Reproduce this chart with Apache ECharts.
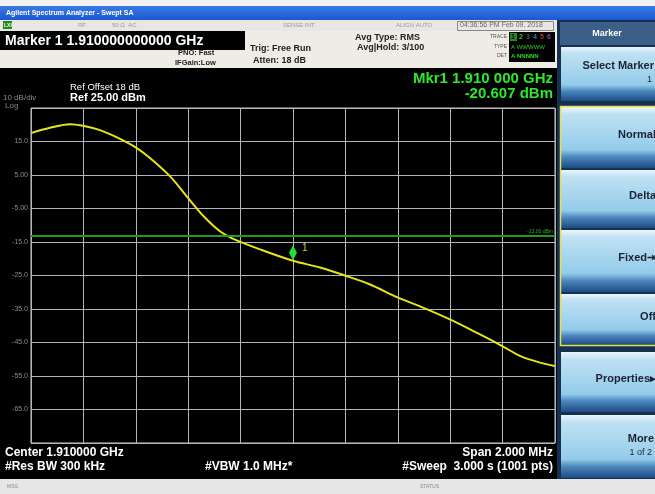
<!DOCTYPE html>
<html>
<head>
<meta charset="utf-8">
<script src="https://cdn.jsdelivr.net/npm/echarts@6/dist/echarts.min.js"></script>
<style>
	html, body { margin: 0; padding: 0; background: #000; }
	#main { width: 655px; height: 494px; }
</style>
</head>
<body>
<div id="main"></div>
<script>
	// trace: offset from center (kHz) and level (dBm)
	const freqOffsetKHz = [-1000, -927, -851, -802, -737, -668, -599, -546, -469, -401, -340, -279, -230, -126, 0, 103, 198, 294, 401, 485, 599, 714, 802, 866, 943, 1000];
	const traceDbm = [17.5, 19.1, 20.15, 19.7, 18.4, 16.1, 13.2, 10.1, 4.6, -1.8, -7.4, -11.8, -14.0, -17.2, -20.6, -22.6, -25.0, -27.7, -31.6, -34.2, -38.1, -42.6, -46.2, -49.0, -51.0, -52.0];

	const refLevel = 25;       // Ref 25.00 dBm
	const displayLine = -13;   // -13.00 dBm
	const markerOffset = 0;    // Mkr1 at center
	const markerLevel = -20.607;

	const FONT = 'Liberation Sans, Arial, sans-serif';

	// y axis is drawn relative to the ref level so the ticks land on -100..0
	const traceData = freqOffsetKHz.map((f, i) => [f, traceDbm[i] - refLevel]);

	function levelLabel(v) {
		let d = v + refLevel;
		return Math.abs(d) >= 10 ? d.toFixed(1) : d.toFixed(2);
	}

	function txt(x, y, s, o) {
		return {
			type: 'text', x: x, y: y, z: 10,
			style: Object.assign({
				text: s, fill: '#fff', font: '11px ' + FONT,
				textAlign: 'left', textVerticalAlign: 'middle'
			}, o || {})
		};
	}

	function rect(x, y, w, h, fill, o) {
		return Object.assign({ type: 'rect', z: 5, shape: { x: x, y: y, width: w, height: h }, style: { fill: fill } }, o || {});
	}

	const btnFill = new echarts.graphic.LinearGradient(0, 0, 0, 1, [
		{ offset: 0, color: '#eaf6fc' },
		{ offset: 0.12, color: '#bfe1f3' },
		{ offset: 0.7, color: '#93cbea' },
		{ offset: 0.82, color: '#4b86bd' },
		{ offset: 1, color: '#1d4c84' }
	]);

	function button(y, h, label, sub) {
		let list = [rect(561, y, 94, h, btnFill)];
		if (sub) {
			list.push(txt(654, y + h / 2 - 8, label, { font: 'bold 11px ' + FONT, fill: '#1a2233', textAlign: 'right' }));
			list.push(txt(652, y + h / 2 + 6, sub, { font: '9px ' + FONT, fill: '#1a2233', textAlign: 'right' }));
		} else {
			list.push(txt(656, y + h / 2 - 3, label, { font: 'bold 11px ' + FONT, fill: '#1a2233', textAlign: 'right' }));
		}
		return list;
	}

	let graphics = [
		// window title
		rect(0, 0, 655, 6, '#f2f2f2'),
		rect(0, 6, 655, 14, new echarts.graphic.LinearGradient(0, 0, 0, 1, [
			{ offset: 0, color: '#3a7be6' }, { offset: 1, color: '#1b58d0' }
		])),
		txt(6, 13, 'Agilent Spectrum Analyzer - Swept SA', { font: 'bold 7px ' + FONT }),
		// status row
		rect(0, 20, 557, 11, '#e9e7e1'),
		rect(3, 21, 9, 8, '#1c8c1c'),
		txt(4, 25.5, 'LXI', { font: 'bold 5px ' + FONT }),
		txt(78, 25.5, 'RF', { font: '6px ' + FONT, fill: '#999' }),
		txt(112, 25.5, '50 Ω  AC', { font: '6px ' + FONT, fill: '#999' }),
		txt(283, 25.5, 'SENSE:INT', { font: '6px ' + FONT, fill: '#999' }),
		txt(396, 25.5, 'ALIGN AUTO', { font: '6px ' + FONT, fill: '#999' }),
		rect(457.5, 21.5, 96, 9, 'none', { style: { fill: 'none', stroke: '#888', lineWidth: 1 } }),
		txt(460, 25.5, '04:36:56 PM Feb 09, 2018', { font: '7px ' + FONT, fill: '#666' }),
		// settings panel
		rect(0, 31, 557, 37, '#efece5'),
		rect(0, 31, 245, 19, '#000'),
		txt(5, 41, 'Marker 1 1.910000000000 GHz', { font: 'bold 14px ' + FONT }),
		txt(178, 53, 'PNO: Fast', { font: 'bold 7.5px ' + FONT, fill: '#222' }),
		txt(175, 63, 'IFGain:Low', { font: 'bold 7.5px ' + FONT, fill: '#222' }),
		txt(250, 49, 'Trig: Free Run', { font: 'bold 9px ' + FONT, fill: '#222' }),
		txt(253, 61, 'Atten: 18 dB', { font: 'bold 9px ' + FONT, fill: '#222' }),
		txt(355, 38, 'Avg Type: RMS', { font: 'bold 9px ' + FONT, fill: '#222' }),
		txt(357, 48, 'Avg|Hold: 3/100', { font: 'bold 9px ' + FONT, fill: '#222' }),
		txt(507, 37, 'TRACE', { font: '5px ' + FONT, fill: '#555', textAlign: 'right' }),
		txt(507, 47, 'TYPE', { font: '5px ' + FONT, fill: '#555', textAlign: 'right' }),
		txt(507, 56, 'DET', { font: '5px ' + FONT, fill: '#555', textAlign: 'right' }),
		rect(509, 32, 46, 30, '#000'),
		rect(510, 33, 7, 8, '#1f8a1f'),
		txt(511, 37, '1', { font: 'bold 7px ' + FONT, fill: '#000' }),
		txt(519, 37, '2', { font: 'bold 7px ' + FONT, fill: '#2ad02a' }),
		txt(526, 37, '3', { font: 'bold 7px ' + FONT, fill: '#555' }),
		txt(533, 37, '4', { font: 'bold 7px ' + FONT, fill: '#3b6bd8' }),
		txt(540, 37, '5', { font: 'bold 7px ' + FONT, fill: '#c43030' }),
		txt(547, 37, '6', { font: 'bold 7px ' + FONT, fill: '#8a3cc8' }),
		txt(511, 47, 'A WWWWW', { font: '6px ' + FONT, fill: '#2ad02a' }),
		txt(511, 56, 'A NNNNN', { font: 'bold 6px ' + FONT, fill: '#2ad02a' }),
		// display annotations
		txt(70, 87, 'Ref Offset 18 dB', { font: '9.5px ' + FONT }),
		txt(70, 98, 'Ref 25.00 dBm', { font: 'bold 11px ' + FONT }),
		txt(3, 98, '10 dB/div', { font: '8px ' + FONT, fill: '#8a8a8a' }),
		txt(5, 106, 'Log', { font: '8px ' + FONT, fill: '#8a8a8a' }),
		txt(553, 79, 'Mkr1 1.910 000 GHz', { font: 'bold 15px ' + FONT, fill: '#2bea2b', textAlign: 'right' }),
		txt(553, 94, '-20.607 dBm', { font: 'bold 15px ' + FONT, fill: '#2bea2b', textAlign: 'right' }),
		txt(5, 453, 'Center 1.910000 GHz', { font: 'bold 12px ' + FONT }),
		txt(5, 467, '#Res BW 300 kHz', { font: 'bold 12px ' + FONT }),
		txt(205, 467, '#VBW 1.0 MHz*', { font: 'bold 12px ' + FONT }),
		txt(553, 453, 'Span 2.000 MHz', { font: 'bold 12px ' + FONT, textAlign: 'right' }),
		txt(553, 467, '#Sweep  3.000 s (1001 pts)', { font: 'bold 12px ' + FONT, textAlign: 'right' }),
		// bottom status bar
		rect(0, 479, 655, 15, '#e6e6e6'),
		txt(7, 487, 'MSG', { font: '5px ' + FONT, fill: '#888' }),
		txt(420, 487, 'STATUS', { font: '5px ' + FONT, fill: '#888' }),
		// softkey panel
		rect(557, 20, 98, 459, '#16304f'),
		rect(560, 22, 95, 23, '#3b5f86'),
		txt(607, 33.5, 'Marker', { font: 'bold 9px ' + FONT, textAlign: 'center' })
	];

	graphics = graphics.concat(
		button(47, 54, 'Select Marker', '1'),
		button(107, 61, 'Normal'),
		button(170, 58, 'Delta'),
		button(230, 62, 'Fixed\u21E5'),
		button(294, 51, 'Off'),
		button(352, 60, 'Properties\u25B8'),
		button(415, 63, 'More', '1 of 2'),
		[rect(560.5, 106.5, 96, 239, 'none', { z: 11, style: { fill: 'none', stroke: '#e6e04a', lineWidth: 1.5 } })]
	);

	let option = {
		backgroundColor: '#000',
		animation: false,
		grid: {
			left: 31, right: 100, top: 108, bottom: 51,
			show: true, borderColor: '#cfcfcf', borderWidth: 1, backgroundColor: '#000'
		},
		xAxis: {
			type: 'value', min: -1000, max: 1000, interval: 200,
			axisLine: { show: false }, axisTick: { show: false }, axisLabel: { show: false },
			splitLine: { lineStyle: { color: '#b4b4bc', width: 1 } }
		},
		yAxis: {
			type: 'value', min: -100, max: 0, interval: 10,
			axisLine: { show: false }, axisTick: { show: false },
			axisLabel: {
				color: '#8c8c8c', fontSize: 7, fontFamily: FONT, margin: 3,
				showMinLabel: false, showMaxLabel: false,
				formatter: levelLabel
			},
			splitLine: { lineStyle: { color: '#b4b4bc', width: 1 } }
		},
		series: [{
			type: 'line',
			data: traceData,
			smooth: 0.35,
			showSymbol: false,
			lineStyle: { color: '#e6e41c', width: 2 },
			markLine: {
				silent: true, symbol: 'none',
				lineStyle: { color: '#1f9a1f', width: 2, type: 'solid' },
				label: {
					position: 'insideEndTop', distance: [2, 1],
					formatter: displayLine.toFixed(2) + ' dBm',
					color: '#2ab82a', fontSize: 5, fontFamily: FONT
				},
				data: [{ yAxis: displayLine - refLevel }]
			},
			markPoint: {
				symbol: 'diamond', symbolSize: [8, 15], symbolOffset: [0, -8],
				itemStyle: { color: '#22dd33' },
				label: {
					show: true, formatter: '1', position: 'right', offset: [0, -5],
					color: '#d8cf3a', fontSize: 10, fontFamily: FONT
				},
				data: [{ coord: [markerOffset, markerLevel - refLevel] }]
			}
		}],
		graphic: graphics
	};

	let myChart = echarts.init(document.getElementById('main'));
	myChart.setOption(option);
</script>
</body>
</html>
